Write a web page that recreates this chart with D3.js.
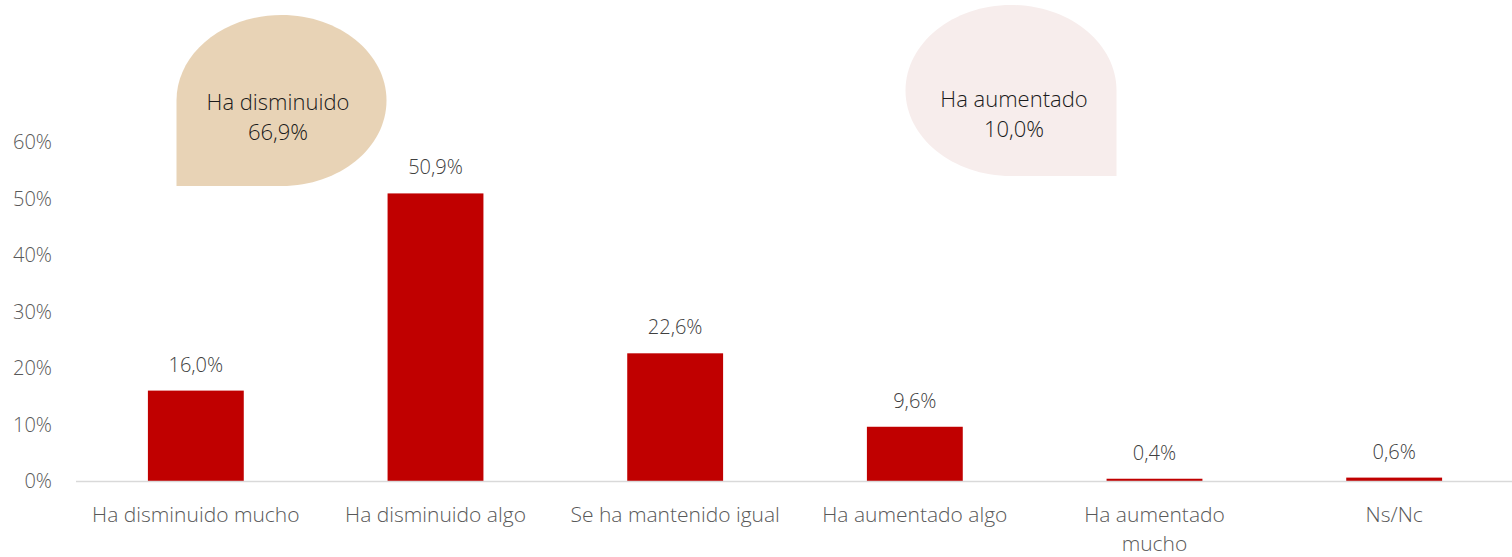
<!DOCTYPE html>
<html>
<head>
<meta charset="utf-8">
<script src="https://cdn.jsdelivr.net/npm/d3@7/dist/d3.min.js"></script>
<style>
  html, body { margin: 0; padding: 0; background: #fff; }
  svg { display: block; font-family: "Open Sans", "Noto Sans", sans-serif; font-weight: 300; }
</style>
</head>
<body>
<svg id="chart" width="1512" height="557"></svg>
<script>
// Chart data
const categories = ["Ha disminuido mucho", "Ha disminuido algo", "Se ha mantenido igual", "Ha aumentado algo", "Ha aumentado mucho", "Ns/Nc"];
const categoryLines = [["Ha disminuido mucho"], ["Ha disminuido algo"], ["Se ha mantenido igual"], ["Ha aumentado algo"], ["Ha aumentado", "mucho"], ["Ns/Nc"]];
const values = [16.0, 50.9, 22.6, 9.6, 0.4, 0.6];
const yTicks = [0, 10, 20, 30, 40, 50, 60];
const bubbleTitles = ["Ha disminuido", "Ha aumentado"];
const bubbleValues = [66.9, 10.0];

const fmt = v => v.toFixed(1).replace(".", ",") + "%";

const svg = d3.select("#chart");
const W = 1512, H = 557;
const margin = { left: 76, right: -2, top: 142, bottom: 76 };

const x = d3.scaleBand().domain(categories).range([margin.left, W - margin.right]).padding(0);
const y = d3.scaleLinear().domain([0, 60]).range([H - margin.bottom, margin.top]);
const barFrac = 0.4;

// Speech-bubble callouts (one square corner each)
function bubblePath(cx, cy, rx, ry, squareCorner) {
  const l = cx - rx, r = cx + rx, t = cy - ry, b = cy + ry, k = 0.5523;
  const p = d3.path();
  p.moveTo(cx, t);
  if (squareCorner === "tr") { p.lineTo(r, t); p.lineTo(r, cy); }
  else p.bezierCurveTo(cx + rx * k, t, r, cy - ry * k, r, cy);
  if (squareCorner === "br") { p.lineTo(r, b); p.lineTo(cx, b); }
  else p.bezierCurveTo(r, cy + ry * k, cx + rx * k, b, cx, b);
  if (squareCorner === "bl") { p.lineTo(l, b); p.lineTo(l, cy); }
  else p.bezierCurveTo(cx - rx * k, b, l, cy + ry * k, l, cy);
  p.bezierCurveTo(l, cy - ry * k, cx - rx * k, t, cx, t);
  p.closePath();
  return p.toString();
}

const bubbles = [
  { cx: 281.5, cy: 100.5, rx: 105, ry: 85.5, corner: "bl", fill: "#E8D3B6", tx: 278, ty: 110 },
  { cx: 1011, cy: 90.5, rx: 105.5, ry: 85.5, corner: "br", fill: "#F7EDEC", tx: 1014, ty: 107 }
];
bubbles.forEach((bb, i) => {
  svg.append("path").attr("d", bubblePath(bb.cx, bb.cy, bb.rx, bb.ry, bb.corner)).attr("fill", bb.fill);
  const t = svg.append("text").attr("text-anchor", "middle").attr("fill", "#1a1a1a")
    .style("font-size", "22px");
  t.append("tspan").attr("x", bb.tx).attr("y", bb.ty).text(bubbleTitles[i]);
  t.append("tspan").attr("x", bb.tx).attr("y", bb.ty + 30).text(fmt(bubbleValues[i]));
});

// Y axis tick labels
svg.append("g").selectAll("text").data(yTicks).join("text")
  .attr("x", 52).attr("y", d => y(d)).attr("dy", "0.36em")
  .attr("text-anchor", "end").attr("fill", "#595959").style("font-size", "20px")
  .text(d => d + "%");

// Bars
svg.append("g").selectAll("rect").data(values).join("rect")
  .attr("x", (d, i) => x(categories[i]) + x.bandwidth() * (1 - barFrac) / 2)
  .attr("width", x.bandwidth() * barFrac)
  .attr("y", d => y(d))
  .attr("height", d => y(0) - y(d))
  .attr("fill", "#C00000");

// Baseline
svg.append("line").attr("x1", margin.left).attr("x2", W).attr("y1", y(0) + 0.5).attr("y2", y(0) + 0.5)
  .attr("stroke", "#D9D9D9").attr("stroke-width", 1.5);

// Value labels
svg.append("g").selectAll("text").data(values).join("text")
  .attr("x", (d, i) => x(categories[i]) + x.bandwidth() / 2)
  .attr("y", d => y(d) - 19)
  .attr("text-anchor", "middle").attr("fill", "#404040").style("font-size", "20px")
  .text(d => fmt(d));

// Category labels
const cat = svg.append("g").selectAll("text").data(categories).join("text")
  .attr("text-anchor", "middle").attr("fill", "#595959").style("font-size", "21px");
cat.each(function(d, i) {
  const cx = x(d) + x.bandwidth() / 2;
  categoryLines[i].forEach((ln, j) => {
    d3.select(this).append("tspan").attr("x", cx).attr("y", 522 + j * 29).text(ln);
  });
});
</script>
</body>
</html>
